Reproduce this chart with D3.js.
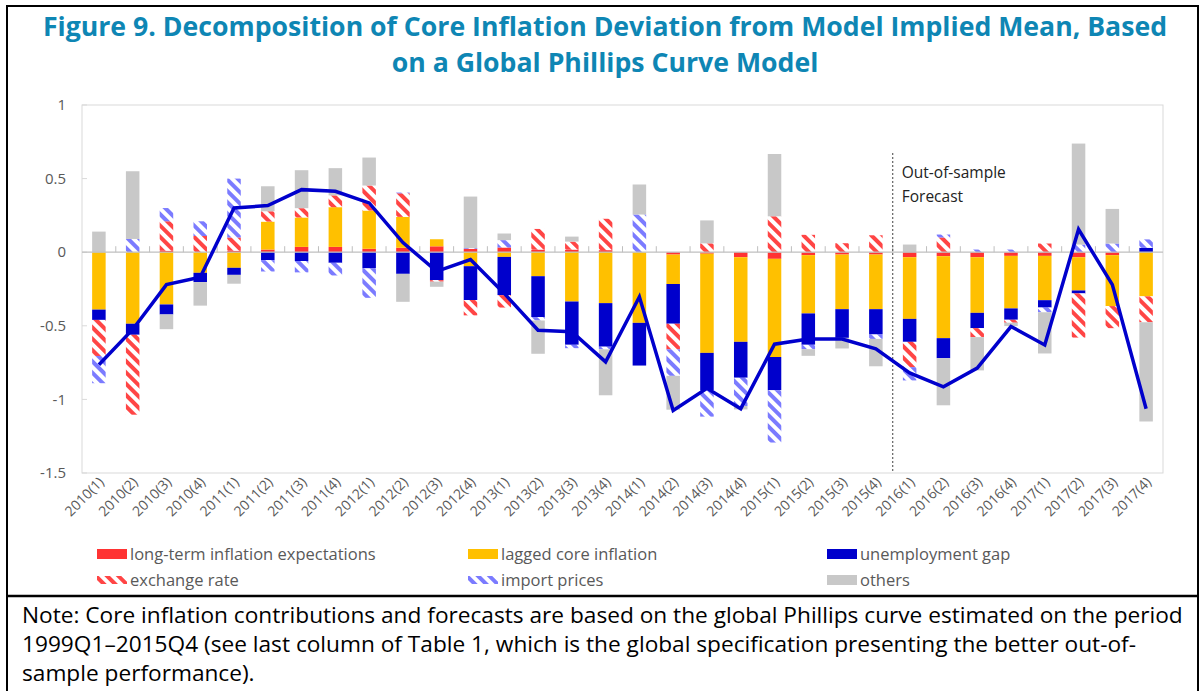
<!DOCTYPE html>
<html>
<head>
<meta charset="utf-8">
<script src="https://cdn.jsdelivr.net/npm/d3@7"></script>
<style>
  body { margin: 0; background: #fff; }
  svg { display: block; font-family: "Open Sans", "Noto Sans", sans-serif; }
</style>
</head>
<body>
<div id="chart"></div>
<script>
// categories (quarters)
var quarters = ["2010(1)","2010(2)","2010(3)","2010(4)","2011(1)","2011(2)","2011(3)","2011(4)",
                "2012(1)","2012(2)","2012(3)","2012(4)","2013(1)","2013(2)","2013(3)","2013(4)",
                "2014(1)","2014(2)","2014(3)","2014(4)","2015(1)","2015(2)","2015(3)","2015(4)",
                "2016(1)","2016(2)","2016(3)","2016(4)","2017(1)","2017(2)","2017(3)","2017(4)"];

// contributions
var longTerm     = [0, 0, 0.01, 0, 0.01, 0.018, 0.036, 0.036, 0.023, 0.03, 0.04, 0.023, 0.032, 0.018, 0.018, 0.014,
                    0, -0.016, -0.01, -0.034, -0.045, -0.02, -0.016, -0.016, -0.034, -0.027, -0.034, -0.025, -0.025, -0.034, -0.02, 0];
var lagged       = [-0.39, -0.486, -0.355, -0.14, -0.106, 0.19, 0.2, 0.27, 0.26, 0.21, 0.048, -0.095, -0.032, -0.163, -0.335, -0.346,
                    -0.48, -0.2, -0.674, -0.575, -0.667, -0.396, -0.371, -0.371, -0.419, -0.557, -0.378, -0.357, -0.301, -0.226, -0.346, -0.3];
var unempGap     = [-0.07, -0.075, -0.068, -0.063, -0.048, -0.054, -0.06, -0.072, -0.11, -0.147, -0.19, -0.23, -0.26, -0.278, -0.294, -0.296,
                    -0.29, -0.27, -0.253, -0.244, -0.226, -0.213, -0.195, -0.172, -0.156, -0.136, -0.104, -0.077, -0.05, -0.02, 0, 0.03];
var exchRate     = [-0.245, -0.543, 0.2, 0.11, 0.09, 0.07, 0.063, 0.08, 0.17, 0.16, -0.01, -0.104, -0.084, 0.14, 0.054, 0.213,
                    0, -0.174, 0.06, 0, 0.244, 0.118, 0.061, 0.115, -0.172, 0.1, -0.061, -0.02, 0.059, -0.3, -0.15, -0.176];
var importPrices = [-0.185, 0.09, 0.09, 0.1, 0.4, -0.077, -0.077, -0.086, -0.2, 0.005, 0, 0.005, 0.05, -0.023, -0.023, -0.018,
                    0.256, -0.18, -0.18, -0.192, -0.355, -0.03, 0, -0.03, -0.09, 0.02, 0.018, 0.018, -0.032, 0.052, 0.059, 0.057];
var others       = [0.14, 0.46, -0.1, -0.16, -0.06, 0.17, 0.258, 0.185, 0.19, -0.19, -0.035, 0.35, 0.045, -0.226, 0.034, -0.312,
                    0.204, -0.23, 0.156, -0.023, 0.423, -0.045, -0.072, -0.186, 0.052, -0.32, -0.226, -0.023, -0.28, 0.686, 0.235, -0.674];
// deviation from model implied mean (line)
var total        = [-0.765, -0.525, -0.22, -0.17, 0.3, 0.317, 0.425, 0.414, 0.335, 0.065, -0.13, -0.05, -0.28, -0.53, -0.54, -0.745,
                    -0.303, -1.075, -0.925, -1.063, -0.625, -0.59, -0.59, -0.656, -0.82, -0.915, -0.787, -0.505, -0.63, 0.155, -0.22, -1.063];

var yTicks = [1, 0.5, 0, -0.5, -1, -1.5];
var forecastStart = "2016(1)";

var seriesNames = ["long-term inflation expectations", "lagged core inflation", "unemployment gap",
                   "exchange rate", "import prices", "others"];
var keys = ["lt", "lag", "ug", "er", "ip", "oth"];
var fills = {lt: "#ff3333", lag: "#ffc000", ug: "#0000cc", er: "url(#hatchRed)", ip: "url(#hatchBlue)", oth: "#c8c8c8"};

var W = 1201, H = 691;
var margin = {top: 105, left: 82, right: 38, bottom: 218};
var plotW = W - margin.left - margin.right,
    plotH = H - margin.top - margin.bottom;

var svg = d3.select("#chart").append("svg")
    .attr("width", W)
    .attr("height", H);

svg.append("rect").attr("width", W).attr("height", H).attr("fill", "#fff");

// hatch patterns
var defs = svg.append("defs");
function hatch(id, color) {
  var p = defs.append("pattern")
      .attr("id", id)
      .attr("patternUnits", "userSpaceOnUse")
      .attr("width", 8).attr("height", 8)
      .attr("patternTransform", "rotate(-45)");
  p.append("rect").attr("width", 8).attr("height", 8).attr("fill", "#fff");
  p.append("rect").attr("width", 4).attr("height", 8).attr("fill", color);
}
hatch("hatchRed", "#ff4545");
hatch("hatchBlue", "#7b7bff");

// outer frame and note separator
svg.append("rect")
    .attr("x", 7).attr("y", 6)
    .attr("width", 1191).attr("height", 700)
    .attr("fill", "none").attr("stroke", "#000").attr("stroke-width", 2);
svg.append("line")
    .attr("x1", 7).attr("x2", 1198)
    .attr("y1", 596).attr("y2", 596)
    .attr("stroke", "#000").attr("stroke-width", 2.5);

// title
var titleLines = ["Figure 9. Decomposition of Core Inflation Deviation from Model Implied Mean, Based",
                  "on a Global Phillips Curve Model"];
var title = svg.append("g");
titleLines.forEach(function(t, i) {
  title.append("text")
      .attr("x", 605).attr("y", 36 + i * 36)
      .attr("text-anchor", "middle")
      .attr("fill", "#0e86b4")
      .style("font-weight", "bold")
      .style("font-size", "24px")
      .text(t);
});
// fit first line to original width
var t0 = title.select("text").node().getComputedTextLength();
var tSize = 24 * 1125 / t0;
title.selectAll("text").style("font-size", tSize + "px");

var g = svg.append("g")
    .attr("transform", "translate(" + margin.left + "," + margin.top + ")");

var x = d3.scaleBand()
    .domain(quarters)
    .range([0, plotW])
    .paddingInner(0.6)
    .paddingOuter(0.3);

var y = d3.scaleLinear()
    .domain([-1.5, 1])
    .range([plotH, 0]);

// plot frame
g.append("rect")
    .attr("width", plotW).attr("height", plotH)
    .attr("fill", "none").attr("stroke", "#d9d9d9");

// y labels
g.selectAll(".ylab")
    .data(yTicks)
    .enter().append("text")
    .attr("x", -16)
    .attr("y", function(d) { return y(d); })
    .attr("dy", "0.35em")
    .attr("text-anchor", "end")
    .attr("fill", "#595959")
    .style("font-size", "15px")
    .text(function(d) { return d; });

g.selectAll(".ytick")
    .data(yTicks)
    .enter().append("line")
    .attr("x1", 0).attr("x2", 5)
    .attr("y1", function(d) { return y(d); })
    .attr("y2", function(d) { return y(d); })
    .attr("stroke", "#d9d9d9");

// stacked bars
var rows = quarters.map(function(q, i) {
  return {q: q, lt: longTerm[i], lag: lagged[i], ug: unempGap[i],
          er: exchRate[i], ip: importPrices[i], oth: others[i]};
});
var stacked = d3.stack()
    .keys(keys)
    .offset(d3.stackOffsetDiverging)(rows);

g.selectAll(".series")
    .data(stacked)
    .enter().append("g")
    .attr("fill", function(s) { return fills[s.key]; })
    .selectAll("rect")
    .data(function(s) { return s; })
    .enter().append("rect")
    .attr("x", function(d) { return x(d.data.q); })
    .attr("width", x.bandwidth())
    .attr("y", function(d) { return y(Math.max(d[0], d[1])); })
    .attr("height", function(d) { return Math.abs(y(d[0]) - y(d[1])); });

// zero axis with category ticks
g.append("line")
    .attr("x1", 0).attr("x2", plotW)
    .attr("y1", y(0)).attr("y2", y(0))
    .attr("stroke", "#bfbfbf").attr("stroke-width", 1.2);
g.selectAll(".ctick")
    .data(quarters.slice(1))
    .enter().append("line")
    .attr("x1", function(d) { return x(d) - x.step() * x.paddingInner() / 2; })
    .attr("x2", function(d) { return x(d) - x.step() * x.paddingInner() / 2; })
    .attr("y1", y(0) - 6).attr("y2", y(0))
    .attr("stroke", "#bfbfbf");

// forecast divider
var divX = x(forecastStart) - x.step() * x.paddingInner() / 2;
g.append("line")
    .attr("x1", divX).attr("x2", divX)
    .attr("y1", 48).attr("y2", plotH)
    .attr("stroke", "#404040")
    .style("stroke-dasharray", "2,2");
g.append("text")
    .attr("x", divX + 9).attr("y", 73)
    .attr("fill", "#222")
    .style("font-size", "15.5px")
    .text("Out-of-sample");
g.append("text")
    .attr("x", divX + 9).attr("y", 97)
    .attr("fill", "#222")
    .style("font-size", "15.5px")
    .text("Forecast");

// total line
g.append("path")
    .datum(total)
    .attr("fill", "none")
    .attr("stroke", "#0000cc")
    .attr("stroke-width", 3.5)
    .attr("stroke-linejoin", "miter")
    .attr("d", d3.line()
      .x(function(d, i) { return x(quarters[i]) + x.bandwidth() / 2; })
      .y(function(d) { return y(d); }));

// x labels
g.selectAll(".xlab")
    .data(quarters)
    .enter().append("text")
    .attr("text-anchor", "end")
    .attr("fill", "#595959")
    .style("font-size", "14px")
    .attr("transform", function(d) {
      return "translate(" + (x(d) + x.bandwidth() / 2 + 6) + "," + (plotH + 10) + ") rotate(-45)";
    })
    .text(function(d) { return d; });

// legend
var legX = [97, 468, 827], legY = [554, 580];
var leg = svg.selectAll(".leg")
    .data(keys)
    .enter().append("g")
    .attr("transform", function(d, i) {
      return "translate(" + legX[i % 3] + "," + legY[Math.floor(i / 3)] + ")";
    });
leg.append("rect")
    .attr("x", 0).attr("y", function(d) { return (d == "er" || d == "ip") ? -4 : -5; })
    .attr("width", 30)
    .attr("height", function(d) { return (d == "er" || d == "ip") ? 8 : 10; })
    .attr("fill", function(d) { return fills[d]; });
leg.append("text")
    .attr("x", 33).attr("dy", "0.35em")
    .attr("fill", "#595959")
    .style("font-size", "16.5px")
    .text(function(d, i) { return seriesNames[i]; });

// note
var noteLines = ["Note: Core inflation contributions and forecasts are based on the global Phillips curve estimated on the period",
                 "1999Q1\u20132015Q4 (see last column of Table 1, which is the global specification presenting the better out-of-",
                 "sample performance)."];
var note = svg.append("g");
noteLines.forEach(function(t, i) {
  note.append("text")
      .attr("x", 22).attr("y", 623 + i * 29)
      .attr("fill", "#000")
      .style("font-size", "20px")
      .text(t);
});
var n0 = note.select("text").node().getComputedTextLength();
note.selectAll("text").style("font-size", (20 * 1161 / n0) + "px");
</script>
</body>
</html>
